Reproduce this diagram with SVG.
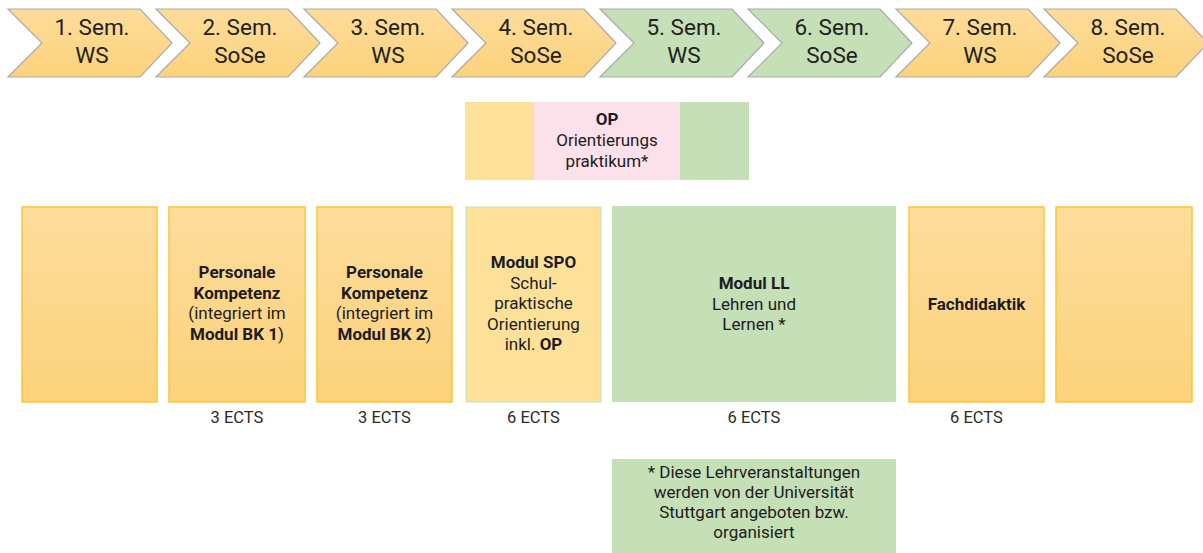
<svg xmlns="http://www.w3.org/2000/svg" width="1203" height="553" viewBox="0 0 1203 553">
<defs>
<linearGradient id="gy" x1="0" y1="0" x2="0" y2="1">
<stop offset="0" stop-color="#FDDC9B"/>
<stop offset="1" stop-color="#FCD27B"/>
</linearGradient>
<style>
.chy{fill:url(#gy);stroke:#A9A9A9;stroke-width:1.2}
.chg{fill:#C5DFB6;stroke:#A9A9A9;stroke-width:1.2}
.ct{font-family:Roboto,"Liberation Sans",sans-serif;font-size:22.5px;fill:#222;text-anchor:middle}
.by{fill:url(#gy);stroke:#FCC635;stroke-width:1.5}
.t{font-family:Roboto,"Liberation Sans",sans-serif;font-size:17px;fill:#1c1c22;text-anchor:middle}
.b{font-weight:bold}
.e{font-family:Roboto,"Liberation Sans",sans-serif;font-size:16.5px;fill:#2a2a2a;text-anchor:middle}
</style>
</defs>
<rect width="1203" height="553" fill="#fff"/>
<g id="sem1"><path class="chy" d="M8,9H140L172,43L140,77H8L42,43Z"/><text class="ct" x="92" y="35">1. Sem.</text><text class="ct" x="92" y="63">WS</text></g>
<g id="sem2"><path class="chy" d="M156,9H288L320,43L288,77H156L190,43Z"/><text class="ct" x="240" y="35">2. Sem.</text><text class="ct" x="240" y="63">SoSe</text></g>
<g id="sem3"><path class="chy" d="M304,9H436L468,43L436,77H304L338,43Z"/><text class="ct" x="388" y="35">3. Sem.</text><text class="ct" x="388" y="63">WS</text></g>
<g id="sem4"><path class="chy" d="M452,9H584L616,43L584,77H452L486,43Z"/><text class="ct" x="536" y="35">4. Sem.</text><text class="ct" x="536" y="63">SoSe</text></g>
<g id="sem5"><path class="chg" d="M600,9H732L764,43L732,77H600L634,43Z"/><text class="ct" x="684" y="35">5. Sem.</text><text class="ct" x="684" y="63">WS</text></g>
<g id="sem6"><path class="chg" d="M748,9H880L912,43L880,77H748L782,43Z"/><text class="ct" x="832" y="35">6. Sem.</text><text class="ct" x="832" y="63">SoSe</text></g>
<g id="sem7"><path class="chy" d="M896,9H1028L1060,43L1028,77H896L930,43Z"/><text class="ct" x="980" y="35">7. Sem.</text><text class="ct" x="980" y="63">WS</text></g>
<g id="sem8"><path class="chy" d="M1044,9H1176L1208,43L1176,77H1044L1078,43Z"/><text class="ct" x="1128" y="35">8. Sem.</text><text class="ct" x="1128" y="63">SoSe</text></g>

<g id="op">
<rect x="465" y="102" width="69" height="78" fill="#FDE199"/>
<rect x="534" y="102" width="146" height="78" fill="#FCE0EA"/>
<rect x="680" y="102" width="69" height="78" fill="#C5DFB6"/>
<text class="t" x="607" y="125"><tspan class="b">OP</tspan><tspan x="607" y="146">Orientierungs</tspan><tspan x="607" y="167">praktikum*</tspan></text>
</g>

<g id="box1"><rect class="by" x="22" y="207" width="135" height="195"/></g>
<g id="box2"><rect class="by" x="169" y="207" width="136" height="195"/>
<text class="t" x="237" y="278"><tspan class="b">Personale</tspan><tspan class="b" x="237" y="298.5">Kompetenz</tspan><tspan x="237" y="319">(integriert im</tspan><tspan x="237" y="339.5"><tspan class="b">Modul BK 1</tspan>)</tspan></text>
<text class="e" x="237" y="423">3 ECTS</text></g>
<g id="box3"><rect class="by" x="317" y="207" width="135" height="195"/>
<text class="t" x="384.5" y="278"><tspan class="b">Personale</tspan><tspan class="b" x="384.5" y="298.5">Kompetenz</tspan><tspan x="384.5" y="319">(integriert im</tspan><tspan x="384.5" y="339.5"><tspan class="b">Modul BK 2</tspan>)</tspan></text>
<text class="e" x="384.5" y="423">3 ECTS</text></g>
<g id="box4"><rect x="466" y="207" width="135" height="195" fill="#FDE199" stroke="#CBE2BC" stroke-width="1.2"/>
<text class="t" x="533.5" y="268"><tspan class="b">Modul SPO</tspan><tspan x="533.5" y="288.5">Schul-</tspan><tspan x="533.5" y="309">praktische</tspan><tspan x="533.5" y="329.5">Orientierung</tspan><tspan x="533.5" y="350">inkl. <tspan class="b">OP</tspan></tspan></text>
<text class="e" x="533.5" y="423">6 ECTS</text></g>
<g id="box5"><rect x="612" y="206" width="284" height="196" fill="#C5DFB6"/>
<text class="t" x="754" y="289"><tspan class="b">Modul LL</tspan><tspan x="754" y="309.5">Lehren und</tspan><tspan x="754" y="330">Lernen *</tspan></text>
<text class="e" x="754" y="423">6 ECTS</text></g>
<g id="box6"><rect class="by" x="909" y="207" width="135" height="195"/>
<text class="t b" x="976.5" y="310">Fachdidaktik</text>
<text class="e" x="976.5" y="423">6 ECTS</text></g>
<g id="box7"><rect class="by" x="1056" y="207" width="136" height="195"/></g>

<g id="note"><rect x="612" y="459" width="284" height="94" fill="#C5DFB6"/>
<text class="t" x="754" y="478"><tspan>* Diese Lehrveranstaltungen</tspan><tspan x="754" y="497.5">werden von der Universität</tspan><tspan x="754" y="517.5">Stuttgart angeboten bzw.</tspan><tspan x="754" y="538">organisiert</tspan></text></g>
</svg>
